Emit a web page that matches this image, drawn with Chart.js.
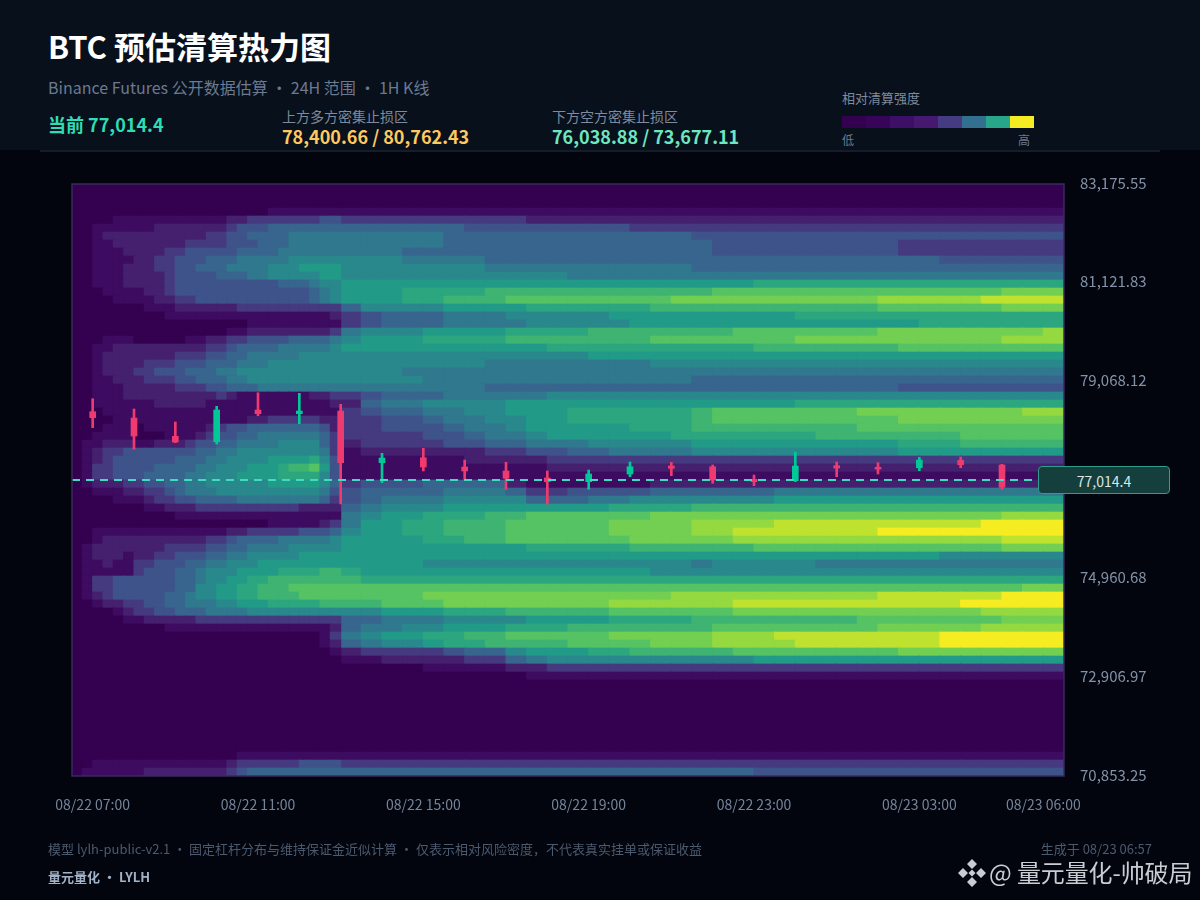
<!DOCTYPE html>
<html lang="zh">
<head>
<meta charset="utf-8">
<title>BTC 预估清算热力图</title>
<script src="https://cdn.jsdelivr.net/npm/chart.js@4/dist/chart.umd.min.js"></script>
<style>
html,body{margin:0;padding:0;background:#02050e;}
body{width:1200px;height:900px;position:relative;overflow:hidden;font-family:"Noto Sans CJK SC","Noto Sans",sans-serif;}
#chart{position:absolute;left:0;top:0;}
#head{position:absolute;left:0;top:0;width:1200px;height:150px;background:#08101c;}
#rule{position:absolute;left:40px;top:150px;width:1120px;height:2px;background:#141d29;}
.t{position:absolute;white-space:pre;line-height:1;}
#scale{position:absolute;left:842px;top:116px;display:flex;}
#scale div{width:24px;height:12px;}
#priceTag{position:absolute;left:1038px;width:130px;height:26px;line-height:28px;text-align:center;background:#143f3d;border:1px solid #2f9c8c;border-radius:4px;color:#dbe6e6;font-size:14px;}
</style>
</head>
<body>
<canvas id="chart" width="1200" height="900"></canvas>
<div id="head"></div>
<div id="rule"></div>
<div class="t" style="left:48px;top:30px;font-size:31px;font-weight:700;color:#fff">BTC 预估清算热力图</div>
<div class="t" style="left:48px;top:79px;font-size:16px;color:#6c7a8f">Binance Futures 公开数据估算 · 24H 范围 · 1H K线</div>
<div class="t" style="left:48px;top:115px;font-size:18px;font-weight:700;color:#2fdcb5">当前 77,014.4</div>
<div class="t" style="left:282px;top:109px;font-size:14px;color:#7f8b9d">上方多方密集止损区</div>
<div class="t" style="left:282px;top:127px;font-size:18px;font-weight:700;color:#ffc95f">78,400.66 / 80,762.43</div>
<div class="t" style="left:552px;top:109px;font-size:14px;color:#7f8b9d">下方空方密集止损区</div>
<div class="t" style="left:552px;top:127px;font-size:18px;font-weight:700;color:#6ee7c0">76,038.88 / 73,677.11</div>
<div class="t" style="left:842px;top:91px;font-size:13px;color:#7f8b9d">相对清算强度</div>
<div id="scale"></div>
<div class="t" style="left:842px;top:134px;font-size:12px;color:#6c7a8f">低</div>
<div class="t" style="left:1018px;top:134px;font-size:12px;color:#6c7a8f">高</div>
<div id="priceTag"></div>
<div class="t" style="left:48px;top:842px;font-size:13px;color:#4c5a6e">模型 lylh-public-v2.1 · 固定杠杆分布与维持保证金近似计算 · 仅表示相对风险密度，不代表真实挂单或保证收益</div>
<div class="t" style="right:48px;top:842px;font-size:13px;color:#4c5a6e">生成于 08/23 06:57</div>
<div class="t" style="left:48px;top:870px;font-size:13px;font-weight:700;color:#a3b2c6">量元量化 · LYLH</div>
<svg style="position:absolute;left:958px;top:859px" width="28" height="28" viewBox="0 0 28 28" fill="#c9cdd1">
<path d="M14 0l5 5-5 5-5-5zM14 18l5 5-5 5-5-5zM5 9l5 5-5 5-5-5zM23 9l5 5-5 5-5-5zM14 10.500l3.500 3.500-3.500 3.500-3.500-3.500z"/>
</svg>
<div class="t" style="left:989px;top:860px;font-size:24px;letter-spacing:-.1px;color:#c9cdd1">@ 量元量化-帅破局</div>
<script>
// candles
var hours = ["08/22 07:00","08/22 08:00","08/22 09:00","08/22 10:00","08/22 11:00","08/22 12:00","08/22 13:00","08/22 14:00","08/22 15:00","08/22 16:00","08/22 17:00","08/22 18:00","08/22 19:00","08/22 20:00","08/22 21:00","08/22 22:00","08/22 23:00","08/23 00:00","08/23 01:00","08/23 02:00","08/23 03:00","08/23 04:00","08/23 05:00","08/23 06:00"];
var opens  = [78436,78305,77924,77811,78471,78394,78450,77374,77478,77285,77202,77056,76979,77139,77306,77291,77029,77000,77312,77279,77270,77424,77327,77000];
var closes = [78311,77930,77805,78471,78394,78450,77374,77472,77285,77202,77050,76979,77139,77291,77258,77014,76979,77306,77264,77243,77430,77333,76862,77014.4];
var highs  = [78706,78492,78222,78548,78831,78819,78590,77570,77674,77430,77383,77202,77222,77389,77383,77327,77118,77597,77389,77374,77487,77493,77341,77060];
var lows   = [78103,77653,77791,77764,78353,78186,76515,76958,77202,77029,76821,76515,76821,77083,77104,76946,76896,76979,77083,77139,77208,77270,76821,76980];

var yTicks = [83175.55,81121.83,79068.12,77014.4,74960.68,72906.97,70853.25];
var xTickIdx = [0,4,8,12,16,20,23];
var current = 77014.4;

// relative intensity per cell, 0-f, rows top to bottom
// 07:00-13:00 in quarter hours
var heatRowsLeft = [
"000000 000000 000000 000000 00",
"000000 000000 000000 000000 00",
"000000 000000 000000 000000 00",
"000000 000000 000000 011111 11",
"000011 111111 111223 333333 44",
"001111 112222 222344 455555 55",
"001222 222222 233445 555666 66",
"001122 222223 333444 555666 66",
"001112 222334 444455 556666 66",
"001111 223344 455566 666777 77",
"001112 223344 555666 677788 88",
"001112 222344 445556 677777 88",
"001112 222344 444444 445556 77",
"000111 122344 444444 444445 67",
"000011 112233 444444 444445 67",
"000000 011122 222233 333333 33",
"000000 000111 111111 111111 12",
"000000 000000 000001 111111 11",
"000000 000000 000112 222222 23",
"000111 000001 122334 444555 56",
"001122 222222 233455 556666 67",
"001222 222233 344556 666677 77",
"001222 233344 455566 677777 77",
"001222 334445 556677 777777 77",
"001122 233344 555667 777777 77",
"001112 222233 344555 666666 66",
"001112 222222 223211 111112 23",
"001111 112222 211111 111111 12",
"000111 111111 111111 111111 11",
"000011 111111 111112 233333 22",
"000111 011111 123445 555555 42",
"001111 000111 234455 666666 53",
"011222 112223 445566 667777 53",
"012334 444444 556677 777777 63",
"012344 444455 566777 788889 74",
"013344 445555 667778 889aab 84",
"013344 455556 677788 889999 74",
"012223 344556 677777 788888 75",
"001112 233456 667777 777777 64",
"000011 123344 555566 666666 53",
"000000 011222 333333 333322 22",
"000000 000011 111111 111111 11",
"000000 000000 000000 011111 23",
"001111 111111 111223 333344 45",
"001222 222222 233455 556666 67",
"012222 222333 344556 666777 77",
"012221 223344 455667 777788 88",
"011211 334445 566777 888888 88",
"011111 344455 677788 889999 aa",
"013344 444455 677889 9aaaaa aa",
"013344 444455 778899 aaabbb bb",
"012344 444556 778899 aaaabb bb",
"001223 344556 667788 899999 aa",
"000012 334455 566667 777777 77",
"000001 122222 333333 333333 33",
"000000 000111 111111 111111 12",
"000000 000000 000000 000000 13",
"000000 000000 000000 000000 12",
"000000 000000 000000 000000 01",
"000000 000000 000000 000000 00",
"000000 000000 000000 000000 00",
"000000 000000 000000 000000 00",
"000000 000000 000000 000000 00",
"000000 000000 000000 000000 00",
"000000 000000 000000 000000 00",
"000000 000000 000000 000000 00",
"000000 000000 000000 000000 00",
"000000 000000 000000 000000 00",
"000000 000000 000000 000000 00",
"000000 000000 000000 000000 00",
"000000 000000 000000 000000 00",
"000000 000000 000011 111111 11",
"001111 111111 111233 333344 44",
"011111 122222 222345 555555 55"
];
// 13:00-06:00 in half hours
var heatRowsRight = [
"000 0000 0000 000000 000000 000000 000000",
"000 0000 0000 000000 000000 000000 000000",
"000 0000 0000 000000 000000 000000 000000",
"111 1111 1111 111111 111111 111111 111111",
"333 3333 3322 222222 222222 222222 222222",
"555 5554 4444 444333 333333 333333 333333",
"666 6655 5555 555555 444444 444444 444444",
"666 6655 5555 555555 544444 444433 333333",
"666 5555 5555 555555 544444 444433 333333",
"777 6666 5555 555555 555555 555555 444444",
"777 7777 6666 666666 555555 555555 555555",
"777 7777 7777 666666 666666 666666 666666",
"888 8888 8888 888888 888999 999999 999999",
"888 9999 aaaa aaaaaa abbbbb bbbbbb bbbccc",
"888 99aa abbb bbbbbc cccccc cccddd ddeeee",
"577 7788 8899 9999aa aaaaaa aaabbb bbbccc",
"345 5566 6777 778888 888889 999999 999999",
"345 5566 6677 777888 888888 888889 999999",
"677 7888 8999 9aaaaa aabbbb bbbccc cccccd",
"788 8999 9aaa aaaabb bbbbbc cccccc cccddd",
"888 8888 8889 999999 999aaa aaaabb bbbbbb",
"777 7777 7777 788888 888888 888888 888888",
"777 7777 6666 666677 777777 777777 777777",
"777 6666 6666 666666 666666 666666 666666",
"777 7666 6666 666666 555555 555555 555555",
"666 6666 5555 555555 555555 555544 444444",
"345 5566 6667 777777 777777 777777 777777",
"256 6777 7888 888888 888889 999999 999999",
"345 5667 7888 999999 abbbbb bbcccc ccccdd",
"334 4566 7788 999999 abbbbb bbbbcc cccccc",
"334 4456 6788 888999 aaaaaa aabbbb bbbbbb",
"333 3445 6678 888889 999999 aaaaaa abbbbb",
"233 3344 5566 677777 888888 888899 9aaaaa",
"122 2222 3344 556666 777777 777788 888888",
"111 1112 2223 333333 333333 333333 333333",
"111 1111 1112 222222 222222 222222 222222",
"111 1111 1111 111111 111111 111111 111111",
"344 4555 5211 111122 222222 222222 222223",
"455 5566 6533 444455 555566 666666 666666",
"456 6677 7755 566777 777788 888888 888888",
"567 7788 8888 889999 aaaaaa aaaaaa aaaaaa",
"678 8999 aabb bbbbcc cccccc cccccc cccddd",
"688 99aa abbb bbcccc ddddee eeeeee eeffff",
"788 99aa abbb bbcccc ddeeee eeefff ffffff",
"888 899a abbb bbbccc ccdddd dddddd dddeee",
"888 8888 8899 999aaa aaabbb bbbbbb bbbccc",
"888 8888 8888 888888 888888 888888 777777",
"888 8777 7777 777777 677777 666666 666666",
"988 8888 8888 888877 777777 777777 777777",
"a99 9999 9999 999999 999999 999999 999999",
"bbb bbbb bbbb bbbbbb bbbbbb bbbbbb bbbbcc",
"bbb bccc cccc cccccd dddddd dddeee eeefff",
"aab bbcc cccc ccdddd ddeeee eeeeee efffff",
"778 8899 9aaa aabbbb bbcccc cccccc ccdddd",
"556 6677 7788 889999 aaaaaa aabbbb bbbccc",
"566 7788 8999 aaaaaa abbbbb bbbccc ccdddd",
"678 899a abbb bbcccc cdddee eeeeee ffffff",
"567 7899 aaaa bbbbcc cdddde eeeeee ffffff",
"233 3345 5788 899aaa aabbbb bbbbcc cccccc",
"112 2223 3567 777777 777888 888888 888888",
"000 0111 1223 333333 333333 333333 333333",
"000 0000 0011 111111 111111 111111 111111",
"000 0000 0000 000000 000000 000000 000000",
"000 0000 0000 000000 000000 000000 000000",
"000 0000 0000 000000 000000 000000 000000",
"000 0000 0000 000000 000000 000000 000000",
"000 0000 0000 000000 000000 000000 000000",
"000 0000 0000 000000 000000 000000 000000",
"000 0000 0000 000000 000000 000000 000000",
"000 0000 0000 000000 000000 000000 000000",
"000 0000 0000 000000 000000 000000 000000",
"111 1111 1111 111111 111111 111111 111111",
"333 3333 3333 333333 333333 333333 333333",
"555 5555 5555 555555 555444 444444 444444"
];
var heatColors = ["#340050","#3d0b60","#45206f","#453a80","#3e5389","#38658d","#2f788d","#28888c","#229a88","#2ba67e","#3fb372","#55c263","#72cf52","#94d93f","#bfe22e","#f5ec22"];
var scaleColors = ["#340050","#38045a","#3e0f66","#46186f","#443b82","#33708f","#28a68a","#f5ec22"];

var UP = "#00c896", DOWN = "#ee3a6e";

scaleColors.forEach(function(c){
  var d = document.createElement("div");
  d.style.background = c;
  document.getElementById("scale").appendChild(d);
});

var yMin = yTicks[yTicks.length-1], yMax = yTicks[0];

// cells for one table, from xStart over colW hours each
function buildCells(rows,xStart,colW){
  var cells = [], fill = [];
  var rowH = (yMax-yMin)/rows.length;
  rows.forEach(function(s,r){
    s = s.replace(/ /g,"");
    for(var c=0;c<s.length;c++){
      cells.push({x:xStart+(c+0.5)*colW, y:[yMax-(r+1)*rowH, yMax-r*rowH]});
      fill.push(heatColors[parseInt(s[c],16)]);
    }
  });
  return {cells:cells,fill:fill};
}
var heatL = buildCells(heatRowsLeft,-0.5,0.25);
var heatR = buildCells(heatRowsRight,6,0.5);

var wicks = hours.map(function(h,i){ return {x:i,y:[lows[i],highs[i]]}; });
var bodies = hours.map(function(h,i){ return {x:i,y:[opens[i],closes[i]]}; });
var candleFill = hours.map(function(h,i){ return closes[i]>=opens[i] ? UP : DOWN; });

var frame = {
  id:"frame",
  afterDraw:function(ch){
    var a = ch.chartArea, c = ch.ctx;
    c.save();
    c.strokeStyle = "#3b2a5c";
    c.lineWidth = 1.5;
    c.strokeRect(a.left,a.top,a.right-a.left,a.bottom-a.top);
    c.restore();
  }
};

Chart.defaults.font.family = '"Noto Sans CJK SC","Noto Sans",sans-serif';

var chart = new Chart("chart",{
  type:"bar",
  data:{datasets:[
    {type:"line",data:[{x:-0.5,y:current},{x:23.5,y:current}],borderColor:"#3fdcc0",borderWidth:2,borderDash:[8,6],pointRadius:0,order:0},
    {data:bodies,backgroundColor:candleFill,barThickness:6,grouped:false,order:1},
    {data:wicks,backgroundColor:candleFill,barThickness:2,grouped:false,order:2},
    {data:heatL.cells,backgroundColor:heatL.fill,barThickness:10.8,grouped:false,order:3},
    {data:heatR.cells,backgroundColor:heatR.fill,barThickness:21.2,grouped:false,order:4}
  ]},
  options:{
    responsive:false,
    animation:false,
    layout:{padding:{left:72,top:184,right:20,bottom:80}},
    plugins:{legend:{display:false},tooltip:{enabled:false}},
    events:[],
    scales:{
      x:{
        type:"linear",min:-0.5,max:23.5,offset:false,
        grid:{display:false},border:{display:false},
        afterFit:function(s){ s.height = 44; },
        afterBuildTicks:function(s){ s.ticks = xTickIdx.map(function(i){ return {value:i}; }); },
        ticks:{autoSkip:false,maxRotation:0,padding:12,color:"#76849a",font:{size:14},
          callback:function(v){ return hours[v]; }}
      },
      y:{
        position:"right",min:yMin,max:yMax,
        grid:{display:false},border:{display:false},
        afterFit:function(s){ s.width = 116; },
        afterBuildTicks:function(s){ s.ticks = yTicks.map(function(v){ return {value:v}; }); },
        ticks:{autoSkip:false,padding:8,labelOffset:-1,color:"#8391a6",font:{size:15},
          callback:function(v){ return v===current ? "" : v.toLocaleString("en-US",{minimumFractionDigits:2,maximumFractionDigits:2}); }}
      }
    }
  },
  plugins:[frame]
});

var tag = document.getElementById("priceTag");
tag.textContent = current.toLocaleString("en-US");
tag.style.top = Math.round(chart.scales.y.getPixelForValue(current)-14)+"px";
</script>
</body>
</html>
